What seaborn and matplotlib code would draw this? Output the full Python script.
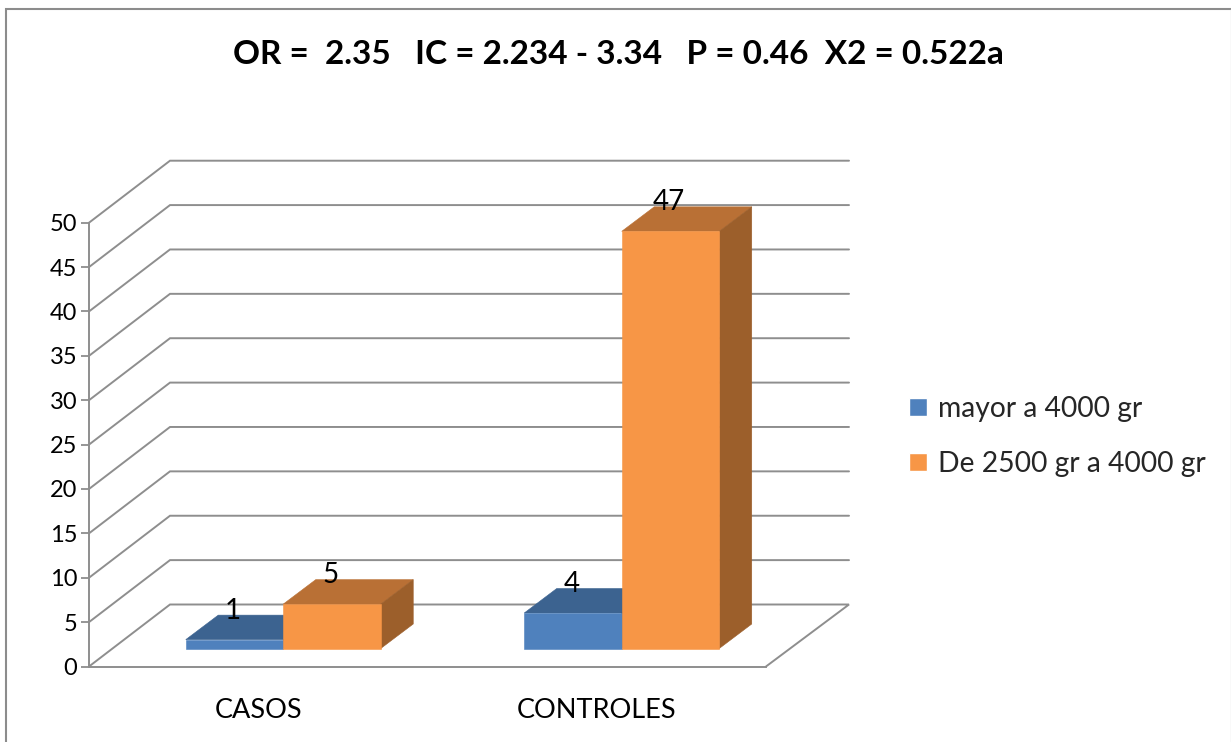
import matplotlib
matplotlib.use("Agg")
import matplotlib.pyplot as plt
import pandas as pd
import seaborn as sns
from matplotlib.lines import Line2D
from matplotlib.patches import Polygon
from matplotlib.transforms import Affine2D, IdentityTransform

# ---- data ----
categories = ["CASOS", "CONTROLES"]
series_names = ["mayor a 4000 gr", "De 2500 gr a 4000 gr"]
mayor_values = [1, 4]
normal_values = [5, 47]
y_ticks = list(range(0, 55, 5))
title = "OR =  2.35   IC = 2.234 - 3.34   P = 0.46  X2 = 0.522a"

# ---- style ----
front_colors = ["#4F81BD", "#F79646"]
top_colors = ["#3C6390", "#B97035"]
side_colors = ["#31547C", "#9C5F2B"]
grid_color = "#8E8E8E"
FONT = "Lato"

sns.set_theme(style="white")
plt.rcParams["font.family"] = [FONT, "DejaVu Sans"]

W, H = 1231, 742
fig = plt.figure(figsize=(W / 100, H / 100), dpi=100, facecolor="white")
ax = fig.add_axes([89 / W, (H - 666.5) / H, 677 / W, 443.8 / H], facecolor="none")

df = pd.DataFrame({
    "grupo": categories * 2,
    "peso": [series_names[0]] * 2 + [series_names[1]] * 2,
    "valor": mayor_values + normal_values,
})
sns.barplot(data=df, x="grupo", y="valor", hue="peso", hue_order=series_names,
            order=categories, palette=front_colors, saturation=1, width=0.576,
            gap=0, ax=ax, errorbar=None, zorder=5)

ax.set_xlim(-0.5, 1.5)
ax.set_ylim(0, 50)
ax.set_xlabel("")
ax.set_ylabel("")
ax.set_yticks(y_ticks)
ax.set_xticks([0, 1])
ax.set_xticks([-0.5, 0.5, 1.5], minor=True)
ax.tick_params(axis="x", which="major", length=0, pad=23, labelsize=19.5, labelcolor="black")
ax.tick_params(axis="x", which="minor", length=7.5, width=1.3, color=grid_color, direction="out")
ax.tick_params(axis="y", which="major", left=True, length=5.5, width=1.3, color=grid_color,
               pad=3, labelsize=17, labelcolor="black")
for s in ["top", "right"]:
    ax.spines[s].set_visible(False)
for s in ["left", "bottom"]:
    ax.spines[s].set_color(grid_color)
    ax.spines[s].set_linewidth(1.4)

# ---- pseudo 3D walls, derived from the axis scale ----
pix = IdentityTransform()
BACK_DX_L, BACK_DX_R, BACK_DY = 81, 83, 62
BAR_DX, BAR_DY = 25, 18
DEPTH_DX, DEPTH_DY = 32.5, 24.5


def to_px(x, y):
    return ax.transData.transform((x, y))


x0, x1 = ax.get_xlim()
for t in y_ticks:
    fx, fy = to_px(x0, t)
    rx, _ = to_px(x1, t)
    xs = [fx, fx + BACK_DX_L, rx + BACK_DX_R]
    ys = [fy, fy + BACK_DY, fy + BACK_DY]
    if t == 0:
        xs.append(rx)
        ys.append(fy)
    ax.add_line(Line2D(xs, ys, transform=pix, color=grid_color, lw=1.4,
                       clip_on=False, zorder=1, solid_joinstyle="miter"))

# ---- pseudo 3D bars, from seaborn's own bars ----
shift = Affine2D().translate(BAR_DX, BAR_DY)
for i, container in enumerate(ax.containers):
    z = 5 + i * 2
    for bar in container:
        b0 = to_px(bar.get_x(), 0)
        b1 = to_px(bar.get_x() + bar.get_width(), bar.get_height())
        lx, by = b0[0] + BAR_DX, b0[1] + BAR_DY
        rx, ty = b1[0] + BAR_DX, b1[1] + BAR_DY
        ax.add_patch(Polygon([(lx, ty), (rx, ty), (rx + DEPTH_DX, ty + DEPTH_DY), (lx + DEPTH_DX, ty + DEPTH_DY)],
                             transform=pix, facecolor=top_colors[i], edgecolor=top_colors[i], lw=0.4,
                             clip_on=False, zorder=z))
        ax.add_patch(Polygon([(rx, by), (rx + DEPTH_DX, by + DEPTH_DY), (rx + DEPTH_DX, ty + DEPTH_DY), (rx, ty)],
                             transform=pix, facecolor=side_colors[i], edgecolor=side_colors[i], lw=0.4,
                             clip_on=False, zorder=z))
        bar.set_transform(ax.transData + shift)
        bar.set_clip_on(False)
        bar.set_edgecolor(front_colors[i])
        bar.set_linewidth(0.4)
        bar.set_zorder(z + 0.5)
        ax.annotate(f"{bar.get_height():.0f}",
                    xy=(bar.get_x() + bar.get_width() / 2, bar.get_height()),
                    xycoords=ax.transData + shift,
                    xytext=(-1.5, 29), textcoords="offset pixels",
                    ha="center", va="center", fontsize=20, color="black",
                    annotation_clip=False, zorder=20)

# ---- legend ----
sns.move_legend(ax, loc="upper left", bbox_to_anchor=(908.5 / W, (H - 396) / H),
                bbox_transform=fig.transFigure, title=None, frameon=False,
                fontsize=20.3, handlelength=0.64, handleheight=0.64,
                handletextpad=0.42, labelspacing=1.02, borderpad=0, borderaxespad=0)

# ---- title and outer frame ----
fig.text(618.5 / W, (H - 54) / H, title, ha="center", va="center",
         fontsize=24, fontweight="bold", color="black")
fig.add_artist(Line2D([5.5, 5.5, W], [0, H - 8.5, H - 8.5], transform=pix,
                      color="#8C8C8C", lw=1.5, solid_joinstyle="miter"))
fig.add_artist(Line2D([W - 0.5, W - 0.5], [0, H - 8.5], transform=pix, color="#E4E4E4", lw=1))

fig.savefig("out.png", dpi=100)
